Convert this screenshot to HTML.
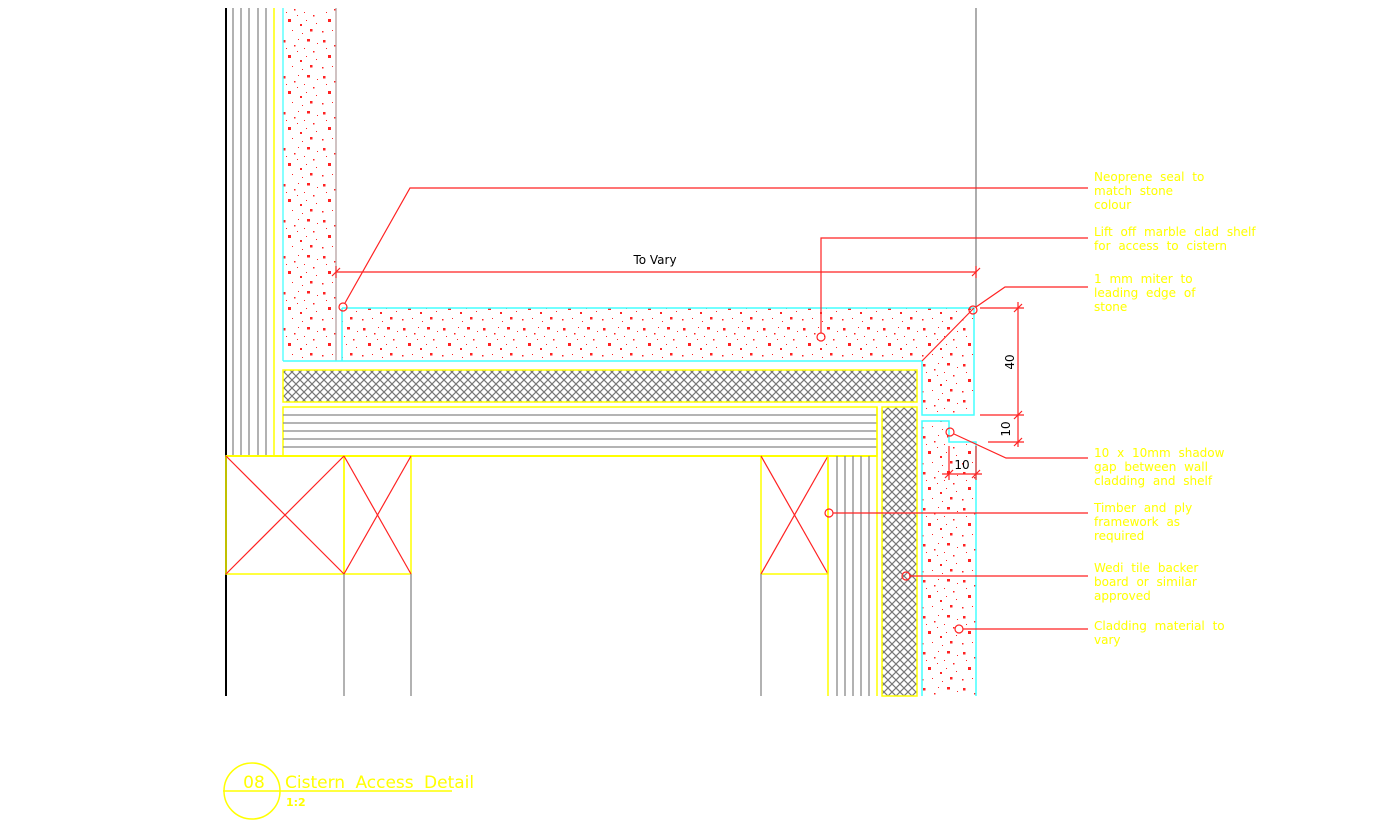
<!DOCTYPE html>
<html><head><meta charset="utf-8"><style>
html,body{margin:0;padding:0;background:#fff;}
svg{display:block;}
text{font-family:"DejaVu Sans","Liberation Sans",sans-serif;}
.lbl{fill:#ffff00;font-size:12px;word-spacing:4px;}
</style></head><body>
<svg width="1389" height="828" viewBox="0 0 1389 828" xmlns="http://www.w3.org/2000/svg">
<defs>
<pattern id="stone" width="40" height="36" patternUnits="userSpaceOnUse">
<g fill="#f22">
<rect x="3" y="4" width="2.5" height="2.5"/><rect x="14" y="9" width="1.5" height="1.5"/><rect x="27" y="3" width="3" height="2.5"/>
<rect x="33" y="15" width="1.5" height="1.5"/><rect x="8" y="19" width="3" height="3"/><rect x="20" y="24" width="2" height="2"/>
<rect x="30" y="29" width="2.5" height="2.5"/><rect x="2" y="31" width="1.5" height="1.5"/><rect x="17" y="15" width="1" height="1"/>
<rect x="24" y="12" width="1" height="1"/><rect x="12" y="30" width="1" height="1"/><rect x="37" y="7" width="1" height="1"/>
<rect x="6" y="12" width="1" height="1"/><rect x="36" y="23" width="1" height="1"/><rect x="22" y="33" width="1" height="1"/>
<rect x="18" y="3" width="1" height="1"/><rect x="26" y="20" width="1" height="1"/>
</g>
</pattern>
<pattern id="hatch" width="8" height="8" patternUnits="userSpaceOnUse">
<path d="M0,0 L8,8 M8,0 L0,8" stroke="#777" stroke-width="1.2"/>
</pattern>
</defs>

<line x1="226" y1="8" x2="226" y2="696" stroke="#000" stroke-width="2"/>
<g stroke="#888" stroke-width="1.3">
<line x1="233" y1="8" x2="233" y2="456"/><line x1="241" y1="8" x2="241" y2="456"/>
<line x1="249" y1="8" x2="249" y2="456"/><line x1="258" y1="8" x2="258" y2="456"/>
<line x1="266" y1="8" x2="266" y2="456"/>
</g>
<line x1="274" y1="8" x2="274" y2="456" stroke="#ff0" stroke-width="1.5"/>

<rect x="283" y="8" width="53" height="353" fill="url(#stone)"/>
<path d="M283,8 V361 M336,8 V361" stroke="#4ff" stroke-width="1.3" fill="none"/>
<line x1="336" y1="8" x2="336" y2="361" stroke="#f66" stroke-width="0.8"/>

<path d="M342,308 H974 V415 H922 V361 H342 Z" fill="url(#stone)"/>
<path d="M342,308 H974 V415 H922 V361 H283 M342,308 V361" stroke="#4ff" stroke-width="1.5" fill="none"/>
<line x1="922" y1="361" x2="974" y2="308" stroke="#f22" stroke-width="1.2"/>

<rect x="283" y="370" width="634" height="32" fill="url(#hatch)" stroke="#ff0" stroke-width="1.5"/>
<rect x="283" y="407" width="594" height="49" fill="#fff" stroke="#ff0" stroke-width="1.5"/>
<g stroke="#888" stroke-width="1.3">
<line x1="283" y1="415" x2="877" y2="415"/><line x1="283" y1="423" x2="877" y2="423"/>
<line x1="283" y1="431" x2="877" y2="431"/><line x1="283" y1="439" x2="877" y2="439"/>
<line x1="283" y1="447" x2="877" y2="447"/>
</g>
<line x1="226" y1="456" x2="877" y2="456" stroke="#ff0" stroke-width="2"/>

<g stroke="#ff0" stroke-width="1.5" fill="none">
<rect x="226" y="456" width="118" height="118"/><rect x="344" y="456" width="67" height="118"/>
<rect x="761" y="456" width="67" height="118"/>
</g>
<g stroke="#f22" stroke-width="1.2">
<line x1="226" y1="456" x2="344" y2="574"/><line x1="344" y1="456" x2="226" y2="574"/>
<line x1="344" y1="456" x2="411" y2="574"/><line x1="411" y1="456" x2="344" y2="574"/>
<line x1="761" y1="456" x2="828" y2="574"/><line x1="828" y1="456" x2="761" y2="574"/>
</g>
<g stroke="#999" stroke-width="1.5">
<line x1="344" y1="574" x2="344" y2="696"/><line x1="411" y1="574" x2="411" y2="696"/>
<line x1="761" y1="574" x2="761" y2="696"/>
</g>
<line x1="828" y1="456" x2="828" y2="696" stroke="#ff0" stroke-width="1.5"/>
<g stroke="#888" stroke-width="1.3">
<line x1="837" y1="456" x2="837" y2="696"/><line x1="845" y1="456" x2="845" y2="696"/>
<line x1="853" y1="456" x2="853" y2="696"/><line x1="861" y1="456" x2="861" y2="696"/>
<line x1="869" y1="456" x2="869" y2="696"/>
</g>
<line x1="877" y1="407" x2="877" y2="696" stroke="#ff0" stroke-width="1.5"/>
<rect x="882" y="407" width="35" height="289" fill="url(#hatch)" stroke="#ff0" stroke-width="1.5"/>

<path d="M922,421 H949 V442 H976 V696 H922 Z" fill="url(#stone)"/>
<path d="M922,696 V421 H949 V442 H976 V696" stroke="#4ff" stroke-width="1.5" fill="none"/>
<line x1="976" y1="8" x2="976" y2="308" stroke="#777" stroke-width="1.2"/>

<g stroke="#f22" stroke-width="1.2" fill="none">
<line x1="336" y1="272" x2="976" y2="272"/>
<line x1="336" y1="266" x2="336" y2="278"/><line x1="976" y1="266" x2="976" y2="278"/>
<line x1="332" y1="276" x2="340" y2="268"/><line x1="972" y1="276" x2="980" y2="268"/>
<line x1="980" y1="308" x2="1024" y2="308"/>
<line x1="980" y1="415" x2="1024" y2="415"/>
<line x1="988" y1="442" x2="1024" y2="442"/>
<line x1="1018" y1="302" x2="1018" y2="447"/>
<line x1="1014" y1="312" x2="1022" y2="304"/><line x1="1014" y1="419" x2="1022" y2="411"/>
<line x1="1014" y1="446" x2="1022" y2="438"/>
<line x1="949" y1="446" x2="949" y2="480"/><line x1="976" y1="446" x2="976" y2="480"/>
<line x1="942" y1="474" x2="982" y2="474"/>
<line x1="945" y1="478" x2="953" y2="470"/><line x1="972" y1="478" x2="980" y2="470"/>
</g>
<text x="655" y="264" font-size="12" text-anchor="middle" fill="#000">To Vary</text>
<text x="1014" y="362" font-size="12" text-anchor="middle" fill="#000" transform="rotate(-90 1014 362)">40</text>
<text x="1010" y="429" font-size="12" text-anchor="middle" fill="#000" transform="rotate(-90 1010 429)">10</text>
<text x="962" y="469" font-size="12" text-anchor="middle" fill="#000">10</text>

<g stroke="#f22" stroke-width="1.2" fill="none">
<circle cx="343" cy="307" r="4"/><polyline points="345,303 410,188 1088,188"/>
<circle cx="821" cy="337" r="4"/><polyline points="821,333 821,238 1088,238"/>
<circle cx="973" cy="310" r="4"/><polyline points="976,307 1005,287 1088,287"/>
<circle cx="950" cy="432" r="4"/><polyline points="954,434 1006,458 1088,458"/>
<circle cx="829" cy="513" r="4"/><line x1="833" y1="513" x2="1088" y2="513"/>
<circle cx="906" cy="576" r="4"/><line x1="910" y1="576" x2="1088" y2="576"/>
<circle cx="959" cy="629" r="4"/><line x1="963" y1="629" x2="1088" y2="629"/>
</g>

<g class="lbl">
<text x="1094" y="181">Neoprene seal to</text><text x="1094" y="195">match stone</text><text x="1094" y="209">colour</text>
<text x="1094" y="236">Lift off marble clad shelf</text><text x="1094" y="250">for access to cistern</text>
<text x="1094" y="283">1 mm miter to</text><text x="1094" y="297">leading edge of</text><text x="1094" y="311">stone</text>
<text x="1094" y="457">10 x 10mm shadow</text><text x="1094" y="471">gap between wall</text><text x="1094" y="485">cladding and shelf</text>
<text x="1094" y="512">Timber and ply</text><text x="1094" y="526">framework as</text><text x="1094" y="540">required</text>
<text x="1094" y="572">Wedi tile backer</text><text x="1094" y="586">board or similar</text><text x="1094" y="600">approved</text>
<text x="1094" y="630">Cladding material to</text><text x="1094" y="644">vary</text>
</g>

<circle cx="252" cy="791" r="28" fill="none" stroke="#ff0" stroke-width="1.5"/>
<line x1="223" y1="791" x2="452" y2="791" stroke="#ff0" stroke-width="1.5"/>
<text x="254" y="788" font-size="17" text-anchor="middle" fill="#ff0">08</text>
<text x="285" y="788" font-size="17" fill="#ff0" style="word-spacing:5px">Cistern Access Detail</text>
<text x="286" y="806" font-size="11" font-weight="bold" fill="#ff0">1:2</text>
</svg>
</body></html>
